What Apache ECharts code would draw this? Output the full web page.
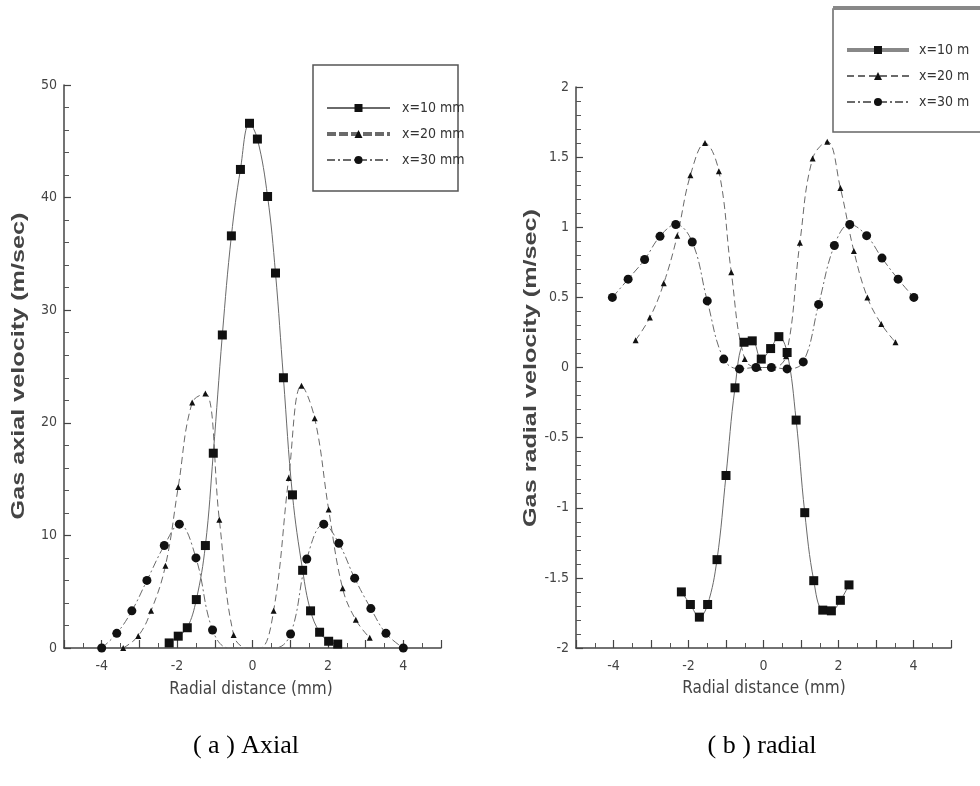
<!DOCTYPE html>
<html>
<head>
<meta charset="utf-8">
<script src="https://cdn.jsdelivr.net/npm/echarts@6/dist/echarts.min.js"></script>
<style>
html,body{margin:0;padding:0;background:#fff;}
#c{width:980px;height:786px;}
</style>
</head>
<body>
<div id="c"></div>
<script>
// ---- Data (a) Axial : gas axial velocity (m/sec) vs radial distance (mm)
const axialX10 = [-2.21, -1.97, -1.73, -1.49, -1.25, -1.04, -0.80, -0.56, -0.32, -0.08, 0.13, 0.40, 0.61, 0.82, 1.06, 1.33, 1.54, 1.78, 2.02, 2.26];
const axialY10 = [0.45, 1.05, 1.8, 4.3, 9.1, 17.3, 27.8, 36.6, 42.5, 46.6, 45.2, 40.1, 33.3, 24.0, 13.6, 6.9, 3.3, 1.4, 0.6, 0.35];
const axialX20 = [-3.43, -3.03, -2.69, -2.31, -1.97, -1.60, -1.25, -0.88, -0.50, -0.13, 0.20, 0.56, 0.96, 1.30, 1.65, 2.02, 2.39, 2.74, 3.11];
const axialY20 = [0, 1.07, 3.3, 7.3, 14.3, 21.8, 22.6, 11.4, 1.15, 0, 0, 3.3, 15.1, 23.3, 20.4, 12.3, 5.3, 2.5, 0.9];
const axialX30 = [-4.0, -3.6, -3.2, -2.8, -2.34, -1.94, -1.50, -1.06, -0.63, -0.20, 0.20, 0.60, 1.01, 1.44, 1.89, 2.29, 2.71, 3.14, 3.54, 4.0];
const axialY30 = [0, 1.3, 3.3, 6.0, 9.1, 11.0, 8.0, 1.6, 0, 0, 0, 0, 1.24, 7.9, 11.0, 9.3, 6.2, 3.5, 1.3, 0];

// ---- Data (b) radial : gas radial velocity (m/sec) vs radial distance (mm)
const radialX10 = [-2.19, -1.95, -1.71, -1.49, -1.24, -1.00, -0.76, -0.52, -0.30, -0.06, 0.19, 0.41, 0.63, 0.87, 1.10, 1.34, 1.58, 1.81, 2.05, 2.28];
const radialY10 = [-1.60, -1.69, -1.78, -1.69, -1.37, -0.77, -0.145, 0.18, 0.19, 0.06, 0.135, 0.22, 0.107, -0.375, -1.035, -1.52, -1.73, -1.735, -1.66, -1.55];
const radialX20 = [-3.41, -3.03, -2.66, -2.30, -1.95, -1.56, -1.19, -0.86, -0.50, -0.12, 0.25, 0.60, 0.97, 1.31, 1.70, 2.05, 2.41, 2.77, 3.14, 3.52];
const radialY20 = [0.195, 0.356, 0.60, 0.94, 1.37, 1.60, 1.40, 0.68, 0.06, 0, 0, 0.08, 0.89, 1.49, 1.61, 1.28, 0.83, 0.50, 0.31, 0.18];
const radialX30 = [-4.03, -3.61, -3.17, -2.76, -2.34, -1.90, -1.50, -1.06, -0.64, -0.20, 0.21, 0.63, 1.06, 1.47, 1.89, 2.30, 2.75, 3.16, 3.59, 4.01];
const radialY30 = [0.50, 0.63, 0.77, 0.935, 1.02, 0.895, 0.475, 0.06, -0.01, 0, 0, -0.01, 0.04, 0.45, 0.87, 1.02, 0.94, 0.78, 0.63, 0.50];

// ---- Labels
const axialNames = ['x=10 mm', 'x=20 mm', 'x=30 mm'];
const radialNames = ['x=10 m', 'x=20 m', 'x=30 m'];
const xTitle = 'Radial distance (mm)';
const yTitleA = 'Gas axial velocity (m/sec)';
const yTitleB = 'Gas radial velocity (m/sec)';
const captionA = '( a ) Axial';
const captionB = '( b ) radial';

const NARROW = "'Liberation Sans Narrow', 'DejaVu Sans Condensed', 'Liberation Sans', sans-serif";
const LINE = '#6a6a6a';
const MARK = '#111';
const DASH = [7, 4];
const DASHDOT = [8, 3, 2, 3];

// points lying on the zero axis in the core region are drawn without a marker (hidden by the axis in the original)
function zip(xs, ys, hideCoreZeros) {
  return xs.map((x, i) => {
    const p = [x, ys[i]];
    if (hideCoreZeros && ys[i] === 0 && Math.abs(x) < 1) {
      return { value: p, symbol: 'none' };
    }
    return p;
  });
}

function xAxisCfg(gridIndex) {
  return {
    type: 'value', gridIndex: gridIndex, min: -5, max: 5, interval: 1,
    axisLine: { show: true, onZero: false, lineStyle: { color: '#444', width: 1.5 } },
    axisTick: { show: true, inside: true, length: 8, lineStyle: { color: '#444', width: 1.2 } },
    minorTick: { show: true, splitNumber: 2, length: 5, lineStyle: { color: '#555', width: 1 } },
    splitLine: { show: false },
    axisLabel: {
      margin: 11, color: '#444', fontFamily: NARROW, fontSize: 14,
      formatter: v => (Math.round(v) % 2 === 0 ? String(v) : '')
    }
  };
}
function yAxisCfg(gridIndex, min, max, interval, minorSplit) {
  return {
    type: 'value', gridIndex: gridIndex, min: min, max: max, interval: interval,
    axisLine: { show: true, onZero: false, lineStyle: { color: '#444', width: 1.5 } },
    axisTick: { show: true, inside: true, length: 7, lineStyle: { color: '#444', width: 1.2 } },
    minorTick: { show: true, splitNumber: minorSplit, length: 5, lineStyle: { color: '#555', width: 1 } },
    splitLine: { show: false },
    axisLabel: { margin: 7, color: '#444', fontFamily: NARROW, fontSize: 14 }
  };
}
function lineSeries(name, xi, xs, ys, symbol, size, dash, hide) {
  return {
    name: name, type: 'line', xAxisIndex: xi, yAxisIndex: xi,
    data: zip(xs, ys, hide), symbol: symbol, symbolSize: size, smooth: 0.4,
    showAllSymbol: true, clip: false,
    lineStyle: { color: LINE, width: 1, type: dash },
    itemStyle: { color: MARK, borderWidth: 0 },
    emphasis: { disabled: true }
  };
}

const chart = echarts.init(document.getElementById('c'), null, { renderer: 'canvas' });
chart.setOption({
  animation: false,
  backgroundColor: '#fff',
  grid: [
    { left: 64, top: 85, width: 377, height: 563 },
    { left: 576, top: 87, width: 375, height: 561 }
  ],
  xAxis: [xAxisCfg(0), xAxisCfg(1)],
  yAxis: [yAxisCfg(0, 0, 50, 10, 5), yAxisCfg(1, -2, 2, 0.5, 5)],
  legend: [
    {
      orient: 'vertical', left: 325, top: 101, padding: 0, itemWidth: 63, itemHeight: 10, itemGap: 12,
      selectedMode: false,
      textStyle: { fontFamily: NARROW, fontSize: 14, color: '#333', padding: [0, 0, 0, 7] },
      data: [
        { name: axialNames[0] },
        { name: axialNames[1], lineStyle: { width: 4, type: [9, 3] } },
        { name: axialNames[2] }
      ]
    },
    {
      orient: 'vertical', left: 845, top: 43, padding: 0, itemWidth: 62, itemHeight: 10, itemGap: 12,
      selectedMode: false,
      textStyle: { fontFamily: NARROW, fontSize: 14, color: '#333', padding: [0, 0, 0, 5] },
      data: [
        { name: radialNames[0], lineStyle: { width: 4, color: '#888' } },
        { name: radialNames[1] },
        { name: radialNames[2] }
      ]
    }
  ],
  series: [
    lineSeries(axialNames[0], 0, axialX10, axialY10, 'rect', 9, 'solid', true),
    lineSeries(axialNames[1], 0, axialX20, axialY20, 'triangle', 6, DASH, true),
    lineSeries(axialNames[2], 0, axialX30, axialY30, 'circle', 9, DASHDOT, true),
    lineSeries(radialNames[0], 1, radialX10, radialY10, 'rect', 9, 'solid', false),
    lineSeries(radialNames[1], 1, radialX20, radialY20, 'triangle', 6, DASH, false),
    lineSeries(radialNames[2], 1, radialX30, radialY30, 'circle', 9, DASHDOT, false)
  ],
  graphic: [
    // legend boxes
    { type: 'rect', shape: { x: 313, y: 65, width: 145, height: 126 }, style: { fill: 'none', stroke: '#555', lineWidth: 1.5 }, silent: true },
    { type: 'rect', shape: { x: 833, y: 9, width: 160, height: 123 }, style: { fill: 'none', stroke: '#666', lineWidth: 1.5 }, silent: true },
    { type: 'line', shape: { x1: 833, y1: 8, x2: 980, y2: 8 }, style: { stroke: '#888', lineWidth: 4 }, silent: true },
    // axis titles
    { type: 'text', x: 251, y: 690, silent: true,
      style: { text: xTitle, font: '17px ' + NARROW, fill: '#444', textAlign: 'center', textVerticalAlign: 'middle', align: 'center', verticalAlign: 'middle' } },
    { type: 'text', x: 764, y: 689, silent: true,
      style: { text: xTitle, font: '17px ' + NARROW, fill: '#444', textAlign: 'center', textVerticalAlign: 'middle', align: 'center', verticalAlign: 'middle' } },
    { type: 'text', x: 19, y: 366, rotation: Math.PI / 2, scaleX: 1.4, silent: true,
      style: { text: yTitleA, font: 'bold 18px "Liberation Sans", Arial, sans-serif', fill: '#444', textAlign: 'center', textVerticalAlign: 'middle', align: 'center', verticalAlign: 'middle' } },
    { type: 'text', x: 531, y: 368, rotation: Math.PI / 2, scaleX: 1.4, silent: true,
      style: { text: yTitleB, font: 'bold 18px "Liberation Sans", Arial, sans-serif', fill: '#444', textAlign: 'center', textVerticalAlign: 'middle', align: 'center', verticalAlign: 'middle' } },
    // captions
    { type: 'text', x: 246, y: 746, silent: true,
      style: { text: captionA, font: '26px "Liberation Serif", "Times New Roman", serif', fill: '#000', textAlign: 'center', textVerticalAlign: 'middle', align: 'center', verticalAlign: 'middle' } },
    { type: 'text', x: 762, y: 746, silent: true,
      style: { text: captionB, font: '26px "Liberation Serif", "Times New Roman", serif', fill: '#000', textAlign: 'center', textVerticalAlign: 'middle', align: 'center', verticalAlign: 'middle' } }
  ]
});
</script>
</body>
</html>
